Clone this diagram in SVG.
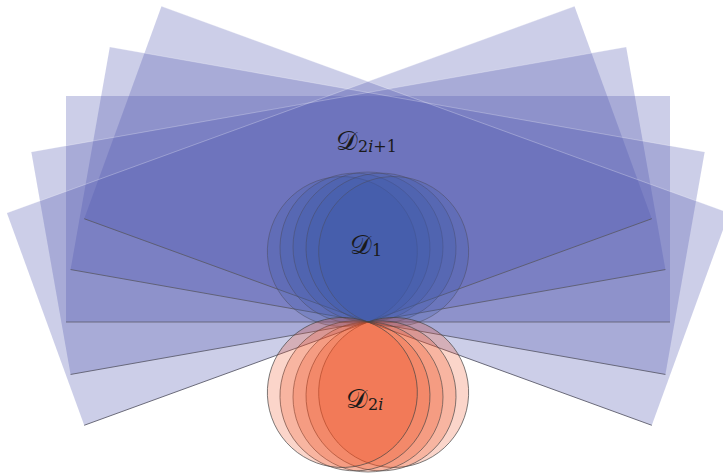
<svg xmlns="http://www.w3.org/2000/svg" width="723" height="475" viewBox="0 0 723 475">
<style>
.reg{fill:#4F56B0;fill-opacity:0.29;stroke:none}
.edge{stroke:#5a5a6a;stroke-width:0.8;fill:none}
.seam{stroke:#ffffff;stroke-opacity:0.35;stroke-width:0.7;fill:none}
.db{fill:#3A58A8;fill-opacity:0.24;stroke:#4a4a5a;stroke-width:0.6;stroke-opacity:0.75}
.do{fill:#F04C1E;fill-opacity:0.235;stroke:#444;stroke-width:0.7;stroke-opacity:0.9}
.lbl{font-family:"DejaVu Serif","Liberation Serif",serif;fill:#1a1a1a}
</style>
<g id="regions">
<rect class="reg" x="66" y="96" width="604" height="226" transform="rotate(-20 368 322)"/>
<rect class="reg" x="66" y="96" width="604" height="226" transform="rotate(-10 368 322)"/>
<rect class="reg" x="66" y="96" width="604" height="226"/>
<rect class="reg" x="66" y="96" width="604" height="226" transform="rotate(10 368 322)"/>
<rect class="reg" x="66" y="96" width="604" height="226" transform="rotate(20 368 322)"/>
</g>
<g id="edges">
<line class="seam" x1="66" y1="96" x2="670" y2="96" transform="rotate(-20 368 322)"/>
<line class="seam" x1="66" y1="96" x2="670" y2="96" transform="rotate(-10 368 322)"/>
<line class="seam" x1="66" y1="96" x2="670" y2="96" transform="rotate(10 368 322)"/>
<line class="seam" x1="66" y1="96" x2="670" y2="96" transform="rotate(20 368 322)"/>
<line class="edge" x1="66" y1="322" x2="670" y2="322" transform="rotate(-20 368 322)"/>
<line class="edge" x1="66" y1="322" x2="670" y2="322" transform="rotate(-10 368 322)"/>
<line class="edge" x1="66" y1="322" x2="670" y2="322"/>
<line class="edge" x1="66" y1="322" x2="670" y2="322" transform="rotate(10 368 322)"/>
<line class="edge" x1="66" y1="322" x2="670" y2="322" transform="rotate(20 368 322)"/>
</g>
<g id="discs-odd">
<circle class="db" cx="368" cy="247" r="75" transform="rotate(-20 368 322)"/>
<circle class="db" cx="368" cy="247" r="75" transform="rotate(-10 368 322)"/>
<circle class="db" cx="368" cy="247" r="75"/>
<circle class="db" cx="368" cy="247" r="75" transform="rotate(10 368 322)"/>
<circle class="db" cx="368" cy="247" r="75" transform="rotate(20 368 322)"/>
</g>
<g id="discs-even">
<circle class="do" cx="368" cy="397" r="75" transform="rotate(-20 368 322)"/>
<circle class="do" cx="368" cy="397" r="75" transform="rotate(-10 368 322)"/>
<circle class="do" cx="368" cy="397" r="75"/>
<circle class="do" cx="368" cy="397" r="75" transform="rotate(10 368 322)"/>
<circle class="do" cx="368" cy="397" r="75" transform="rotate(20 368 322)"/>
</g>
<g id="labels">
<text class="lbl" x="336" y="150" font-size="27">𝒟<tspan font-size="16" dy="2">2𝑖+1</tspan></text>
<text class="lbl" x="350" y="254" font-size="27">𝒟<tspan font-size="16" dy="2">1</tspan></text>
<text class="lbl" x="346" y="408" font-size="27">𝒟<tspan font-size="16" dy="2">2𝑖</tspan></text>
</g>
</svg>
